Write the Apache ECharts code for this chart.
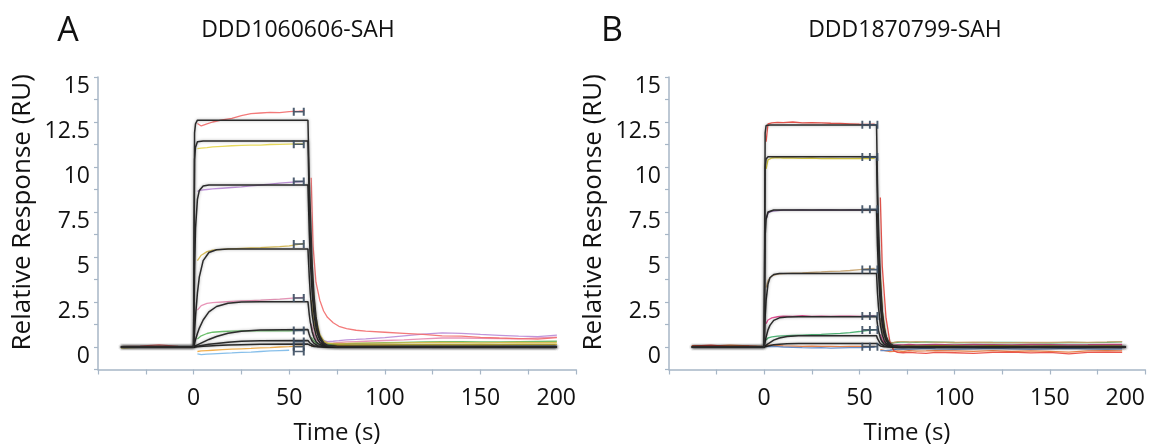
<!DOCTYPE html>
<html>
<head>
<meta charset="utf-8">
<script src="https://cdn.jsdelivr.net/npm/echarts@6/dist/echarts.min.js"></script>
<style>
  body { margin: 0; background: #fff; }
  #graphique { width: 1158px; height: 446px; }
</style>
</head>
<body>
<div id="graphique"></div>
<script>
// Panneau A : courbes ajustees (noir)
const tempsFitA = [-38, 0, 0.5, 1, 2, 3, 5, 8, 12, 18, 25, 35, 59.8, 60.5, 61, 62, 63, 64, 65, 66, 68, 70, 75, 190];
const fitA1 = [0, 0, 11.9, 12.4, 12.6, 12.6, 12.6, 12.6, 12.6, 12.6, 12.6, 12.6, 12.6, 9.2, 7.6, 4.6, 2.8, 1.7, 1.0, 0.6, 0.23, 0.08, 0.01, 0];
const fitA2 = [0, 0, 10.4, 11.1, 11.4, 11.45, 11.45, 11.45, 11.45, 11.45, 11.45, 11.45, 11.45, 8.1, 6.3, 3.8, 2.3, 1.4, 0.85, 0.52, 0.19, 0.07, 0.01, 0];
const fitA3 = [0, 0, 4.2, 6.6, 8.2, 8.7, 8.95, 9.0, 9.0, 9.0, 9.0, 9.0, 9.0, 6.4, 4.9, 3.0, 1.8, 1.1, 0.67, 0.41, 0.15, 0.06, 0.01, 0];
const fitA4 = [0, 0, 0.9, 1.7, 3.0, 3.9, 4.8, 5.25, 5.4, 5.45, 5.45, 5.45, 5.45, 3.9, 3.0, 1.8, 1.1, 0.67, 0.4, 0.25, 0.09, 0.03, 0, 0];
const fitA5 = [0, 0, 0.2, 0.4, 0.75, 1.05, 1.5, 1.95, 2.25, 2.43, 2.5, 2.52, 2.52, 1.8, 1.4, 0.85, 0.51, 0.31, 0.19, 0.11, 0.04, 0.02, 0, 0];
const fitA6 = [0, 0, 0.03, 0.06, 0.12, 0.17, 0.27, 0.42, 0.58, 0.76, 0.87, 0.94, 0.97, 0.69, 0.54, 0.33, 0.2, 0.12, 0.07, 0.04, 0.02, 0.01, 0, 0];
const fitA7 = [0, 0, 0.01, 0.02, 0.04, 0.06, 0.1, 0.15, 0.2, 0.27, 0.32, 0.35, 0.36, 0.26, 0.2, 0.12, 0.07, 0.04, 0.03, 0.02, 0.01, 0, 0, 0];
const fitA8 = [0, 0, 0.01, 0.01, 0.02, 0.03, 0.04, 0.06, 0.08, 0.11, 0.13, 0.15, 0.16, 0.12, 0.09, 0.05, 0.03, 0.02, 0.01, 0.01, 0, 0, 0, 0];

// Panneau A : donnees mesurees (null = trou dans la courbe)
const tempsDonneesA = [-38, -28, -18, -8, -1, 0.5, 2, 4, 7, 10, 15, 20, 25, 30, 35, 40, 45, 50, 55, 58, 59.5,
    61.5, 62.5, 64, 66, 68, 70, 73, 76, 80, 85, 90, 100, 110, 120, 130, 140, 150, 160, 170, 180, 190];
const rougeA = [0.02, 0.05, 0.12, 0.03, 0.02, null,
    12.42, 12.28, 12.4, 12.5, 12.62, 12.7, 12.85, 12.96, 13.0, 13.03, 13.02, 13.08, 13.1, 13.12, null,
    9.4, 5.6, 3.6, 2.6, 2.0, 1.65, 1.35, 1.15, 1.02, 0.93, 0.88,
    0.82, 0.76, 0.7, 0.62, 0.6, 0.54, 0.5, 0.47, 0.44, 0.52];
const jauneA = [-0.05, -0.02, 0, 0.02, 0, null,
    11.02, 11.05, 11.08, 11.12, 11.15, 11.18, 11.2, 11.22, 11.22, 11.25, 11.26, 11.27, 11.28, 11.28, null,
    5.2, 3.3, 1.6, 0.7, 0.35, 0.22, 0.16, 0.14, 0.12, 0.12, 0.13,
    0.12, 0.13, 0.14, 0.15, 0.14, 0.14, 0.15, 0.16, 0.15, 0.16];
const violetA = [0, 0.02, -0.02, 0.01, 0, null,
    8.65, 8.72, 8.75, 8.78, 8.82, 8.86, 8.9, 8.95, 9.0, 9.05, 9.1, 9.15, 9.18, 9.2, null,
    4.3, 2.7, 1.3, 0.6, 0.35, 0.3, 0.32, 0.35, 0.4, 0.42, 0.45,
    0.52, 0.62, 0.72, 0.78, 0.76, 0.7, 0.65, 0.6, 0.58, 0.66];
const orA = [-0.03, 0, 0.03, 0, -0.02, null,
    4.8, 5.1, 5.3, 5.38, 5.42, 5.45, 5.48, 5.5, 5.52, 5.55, 5.58, 5.62, 5.7, 5.75, null,
    2.6, 1.7, 0.9, 0.45, 0.28, 0.22, 0.2, 0.2, 0.2, 0.21, 0.22,
    0.22, 0.23, 0.24, 0.25, 0.24, 0.23, 0.24, 0.25, 0.24, 0.25];
const roseA = [0, 0.01, 0, -0.01, 0, null,
    2.05, 2.3, 2.42, 2.47, 2.5, 2.53, 2.56, 2.58, 2.6, 2.63, 2.66, 2.7, 2.74, 2.76, null,
    1.3, 0.85, 0.45, 0.25, 0.2, 0.2, 0.22, 0.25, 0.28, 0.3, 0.32,
    0.36, 0.4, 0.45, 0.5, 0.5, 0.48, 0.46, 0.45, 0.5, 0.55];
const vertA = [-0.02, 0, 0.02, 0, 0.01, null,
    0.45, 0.62, 0.75, 0.82, 0.86, 0.88, 0.9, 0.9, 0.9, 0.91, 0.9, 0.9, 0.92, 0.92, null,
    0.55, 0.38, 0.22, 0.15, 0.12, 0.12, 0.14, 0.16, 0.18, 0.2, 0.22,
    0.24, 0.26, 0.28, 0.3, 0.3, 0.29, 0.28, 0.3, 0.31, 0.32];
const orangeA = [0, -0.02, 0, 0.02, 0, null,
    -0.25, -0.22, -0.2, -0.18, -0.15, -0.12, -0.1, -0.08, -0.05, -0.03, 0, 0.02, 0.05, 0.05, null,
    0.04, 0.03, 0.03, 0.04, 0.05, 0.06, 0.07, 0.08, 0.09, 0.1, 0.1,
    0.11, 0.12, 0.12, 0.13, 0.12, 0.13, 0.12, 0.13, 0.14, 0.13];
const bleuA = [0, 0, 0, 0, 0, null,
    -0.38, -0.42, -0.4, -0.38, -0.35, -0.33, -0.3, -0.28, -0.25, -0.22, -0.2, -0.18, null, null, null,
    0.02, 0.02, 0.03, 0.04, 0.05, 0.05, 0.06, 0.06, 0.07, 0.07, 0.08,
    0.08, 0.09, 0.09, 0.1, 0.1, 0.1, 0.11, 0.1, 0.11, 0.1];
const marqueursA = [13.07, 11.26, 9.2, 5.72, 2.72, 0.92, 0.3, 0.02, -0.25];

// Panneau B : courbes ajustees
const tempsFitB = [-38, 0, 0.5, 1, 2, 3, 5, 8, 12, 18, 25, 35, 59, 59.5, 60, 61, 62, 63, 64, 65, 66, 68, 72, 190];
const fitB1 = [0, 0, 11.9, 12.3, 12.33, 12.33, 12.33, 12.33, 12.33, 12.33, 12.33, 12.33, 12.33, 9.1, 6.8, 3.7, 2.0, 1.1, 0.6, 0.34, 0.18, 0.06, 0.01, 0];
const fitB2 = [0, 0, 10.0, 10.45, 10.57, 10.57, 10.57, 10.57, 10.57, 10.57, 10.57, 10.57, 10.57, 7.8, 5.8, 3.2, 1.75, 0.96, 0.53, 0.29, 0.16, 0.05, 0.01, 0];
const fitB3 = [0, 0, 6.2, 7.1, 7.5, 7.58, 7.61, 7.61, 7.61, 7.61, 7.61, 7.61, 7.61, 5.6, 4.2, 2.3, 1.25, 0.69, 0.38, 0.21, 0.11, 0.03, 0, 0];
const fitB4 = [0, 0, 1.7, 2.6, 3.5, 3.85, 4.03, 4.08, 4.09, 4.09, 4.09, 4.09, 4.09, 3.0, 2.25, 1.23, 0.68, 0.37, 0.2, 0.11, 0.06, 0.02, 0, 0];
const fitB5 = [0, 0, 0.3, 0.55, 0.95, 1.2, 1.48, 1.62, 1.67, 1.68, 1.68, 1.68, 1.68, 1.24, 0.92, 0.51, 0.28, 0.15, 0.08, 0.05, 0.02, 0.01, 0, 0];
const fitB6 = [0, 0, 0.05, 0.1, 0.18, 0.26, 0.38, 0.5, 0.58, 0.62, 0.63, 0.63, 0.63, 0.46, 0.35, 0.19, 0.1, 0.06, 0.03, 0.02, 0.01, 0, 0, 0];
const fitB7 = [0, 0, 0.02, 0.03, 0.06, 0.08, 0.12, 0.15, 0.18, 0.19, 0.2, 0.2, 0.2, 0.15, 0.11, 0.06, 0.03, 0.02, 0.01, 0.01, 0, 0, 0, 0];

// Panneau B : donnees mesurees
const tempsDonneesB = [-38, -28, -18, -8, -1, 0.3, 1, 2, 4, 7, 10, 15, 20, 25, 30, 35, 40, 45, 50, 55, 58, 59.5,
    61, 62, 64, 66, 68, 70, 73, 76, 80, 85, 90, 100, 110, 120, 130, 140, 150, 160, 170, 180, 188];
const rougeB = [0.05, 0.1, 0.02, 0.05, 0, null,
    11.4, 12.4, 12.45, 12.48, 12.47, 12.5, 12.45, 12.47, 12.45, 12.43, 12.42, 12.4, 12.38, 12.37, 12.38, null,
    8.3, 4.5, 1.6, 0.3, -0.2, -0.3, -0.32, -0.3, -0.33, -0.35, -0.3,
    -0.32, -0.35, -0.3, -0.28, -0.33, -0.3, -0.38, -0.3, -0.28, -0.3];
const jauneB = [0, -0.02, 0.01, 0, 0, null,
    9.9, 10.4, 10.5, 10.52, 10.5, 10.5, 10.48, 10.5, 10.47, 10.48, 10.46, 10.47, 10.48, 10.47, 10.48, null,
    4.0, 2.0, 0.6, 0.15, 0.05, 0.04, 0.05, 0.06, 0.05, 0.06, 0.07,
    0.06, 0.05, 0.07, 0.06, 0.05, 0.06, 0.04, 0.05, 0.06, 0.05];
const violetB = [0, 0, -0.01, 0, 0, null,
    7.1, 7.45, 7.55, 7.58, 7.6, 7.6, 7.61, 7.6, 7.62, 7.61, 7.6, 7.62, 7.61, 7.62, 7.63, null,
    2.9, 1.5, 0.45, 0.12, 0.05, 0.03, 0.02, 0.03, 0.02, 0.03, 0.04,
    0.03, 0.02, 0.04, 0.03, 0.02, 0.03, 0.02, 0.03, 0.04, 0.03];
const brunB = [0.03, 0, 0, 0.02, 0, null,
    3.3, 3.7, 3.95, 4.05, 4.08, 4.1, 4.12, 4.15, 4.17, 4.2, 4.22, 4.25, 4.3, 4.35, 4.37, null,
    1.6, 0.9, 0.35, 0.22, 0.25, 0.3, 0.3, 0.28, 0.3, 0.28, 0.27,
    0.25, 0.27, 0.25, 0.24, 0.26, 0.25, 0.27, 0.26, 0.28, 0.3];
const roseB = [0, 0, 0, 0, 0, null,
    1.3, 1.5, 1.62, 1.68, 1.72, 1.7, 1.74, 1.7, 1.72, 1.7, 1.71, 1.72, 1.7, 1.72, 1.73, null,
    0.7, 0.4, 0.15, 0.08, 0.1, 0.12, 0.12, 0.14, 0.12, 0.13, 0.14,
    0.12, 0.14, 0.13, 0.12, 0.14, 0.13, 0.12, 0.13, 0.15, 0.14];
const vertB = [0, 0, 0, 0, 0, null,
    0.38, 0.5, 0.56, 0.6, 0.62, 0.64, 0.66, 0.68, 0.7, 0.73, 0.76, 0.8, 0.86, 0.93, 0.96, null,
    0.45, 0.3, 0.2, 0.2, 0.24, 0.26, 0.28, 0.27, 0.26, 0.28, 0.27,
    0.25, 0.24, 0.26, 0.25, 0.24, 0.23, 0.25, 0.24, 0.26, 0.28];
const bleuB = [0, 0, 0, 0, 0, null,
    0.02, 0.05, 0.04, 0.02, 0, -0.02, -0.04, -0.05, -0.04, -0.06, -0.05, -0.04, -0.03, -0.02, 0, null,
    -0.2, -0.22, -0.2, -0.18, -0.15, -0.12, -0.1, -0.12, -0.1, -0.08, -0.1,
    -0.12, -0.1, -0.08, -0.1, -0.12, -0.1, -0.08, -0.1, -0.12, -0.1];
const orangeB = [0.08, 0.05, 0.1, 0.06, 0.04, null,
    0.1, 0.12, 0.1, 0.08, 0.06, 0.05, 0.04, 0.05, 0.03, 0.04, 0.02, 0.03, 0.04, 0.02, 0.03, null,
    -0.15, -0.2, -0.22, -0.25, -0.24, -0.22, -0.25, -0.2, -0.23, -0.22, -0.2,
    -0.22, -0.24, -0.2, -0.25, -0.22, -0.24, -0.28, -0.22, -0.2, -0.22];
const marqueursB = [12.35, 10.55, 7.65, 4.3, 1.72, 0.95, 0.02];

const tempsMarqueurA = 55;
const tempsMarqueurB = 55.5;

const police = 'Open Sans';
const couleurAxe = '#a7b6c6';

const dom = document.getElementById('graphique');
const chart = echarts.init(dom, null, { renderer: 'canvas', useDirtyRect: false });

function paires(temps, valeurs) {
    return temps.map((t, i) => [t, valeurs[i]]);
}

function serieDonnees(temps, valeurs, couleur, idx) {
    return {
        type: 'line', xAxisIndex: idx, yAxisIndex: idx,
        data: paires(temps, valeurs),
        symbol: 'none', connectNulls: false, silent: true, z: 2,
        lineStyle: { color: couleur, width: 1.3, opacity: 0.9 }
    };
}

function serieFit(temps, valeurs, idx) {
    return {
        type: 'line', xAxisIndex: idx, yAxisIndex: idx,
        data: paires(temps, valeurs),
        symbol: 'none', silent: true, z: 3,
        lineStyle: { color: '#2b2b2b', width: 1.5, shadowColor: 'rgba(0,0,0,0.35)', shadowBlur: 3 }
    };
}

// Symbole "H" couche (marqueurs de rapport)
const symboleSimple = 'path://M0,0H2V4H10V0H12V10H10V6H2V10H0Z';
const symboleDouble = 'path://M0,0H2V4H8V0H10V4H16V0H18V10H16V6H10V10H8V6H2V10H0Z';

function serieMarqueurs(t, valeurs, symbole, taille, idx) {
    return {
        type: 'scatter', xAxisIndex: idx, yAxisIndex: idx,
        data: valeurs.map(v => [t, v]),
        symbol: symbole, symbolSize: taille, silent: true, z: 4,
        itemStyle: { color: '#3b4d60', opacity: 0.9 }
    };
}

function axeX(idx) {
    return {
        gridIndex: idx, type: 'value', min: -50, max: 200, interval: 25,
        axisLine: { onZero: false, lineStyle: { color: couleurAxe, width: 1.5 } },
        axisTick: { length: 5, lineStyle: { color: couleurAxe, width: 1.2 } },
        splitLine: { show: false },
        axisLabel: {
            fontFamily: police, fontSize: 23, color: '#111', margin: 17,
            alignMaxLabel: 'right',
            formatter: v => (v >= 0 && v % 50 === 0) ? String(v) : ''
        },
        name: 'Time (s)', nameLocation: 'middle', nameGap: 52,
        nameTextStyle: { fontFamily: police, fontSize: 24, color: '#111' }
    };
}

function axeY(idx) {
    return {
        gridIndex: idx, type: 'value', min: -1.25, max: 15, interval: 1.25,
        axisLine: { show: true, onZero: false, lineStyle: { color: couleurAxe, width: 1.5 } },
        axisTick: { show: true, length: 4, lineStyle: { color: couleurAxe, width: 1.2 } },
        splitLine: { show: false },
        axisLabel: {
            fontFamily: police, fontSize: 23, color: '#111', margin: 8,
            verticalAlign: 'top', lineHeight: 18,
            formatter: v => (v >= 0 && Math.abs(v / 2.5 - Math.round(v / 2.5)) < 1e-6) ? String(v) : ''
        },
        name: 'Relative Response (RU)', nameLocation: 'middle', nameGap: 62,
        nameTextStyle: { fontFamily: police, fontSize: 26, color: '#111', padding: [0, 0, 0, 22] }
    };
}

const option = {
    animation: false,
    backgroundColor: '#fff',
    // grilles fixes : pas de recalage automatique autour des libelles
    grid: [
        { left: 98, width: 478, top: 77, height: 292.5, containLabel: false, outerBoundsMode: 'none' },
        { left: 669, width: 476, top: 77, height: 292.5, containLabel: false, outerBoundsMode: 'none' }
    ],
    xAxis: [axeX(0), axeX(1)],
    yAxis: [axeY(0), axeY(1)],
    graphic: [
        { type: 'text', x: 68, y: 31, style: { text: 'A', font: '34px "Open Sans"', fill: '#111', textAlign: 'center', textVerticalAlign: 'middle' } },
        { type: 'text', x: 298, y: 30, style: { text: 'DDD1060606-SAH', font: '23px "Open Sans"', fill: '#111', textAlign: 'center', textVerticalAlign: 'middle' } },
        { type: 'text', x: 612, y: 31, style: { text: 'B', font: '34px "Open Sans"', fill: '#111', textAlign: 'center', textVerticalAlign: 'middle' } },
        { type: 'text', x: 905, y: 30, style: { text: 'DDD1870799-SAH', font: '23px "Open Sans"', fill: '#111', textAlign: 'center', textVerticalAlign: 'middle' } }
    ],
    series: [
        serieDonnees(tempsDonneesA, bleuA, '#7ab8e8', 0),
        serieDonnees(tempsDonneesA, orangeA, '#f0a63c', 0),
        serieDonnees(tempsDonneesA, vertA, '#5cb85c', 0),
        serieDonnees(tempsDonneesA, roseA, '#e68ab0', 0),
        serieDonnees(tempsDonneesA, orA, '#d6b84a', 0),
        serieDonnees(tempsDonneesA, violetA, '#b98ad6', 0),
        serieDonnees(tempsDonneesA, jauneA, '#e6d64a', 0),
        serieDonnees(tempsDonneesA, rougeA, '#f26b6b', 0),
        serieFit(tempsFitA, fitA8, 0),
        serieFit(tempsFitA, fitA7, 0),
        serieFit(tempsFitA, fitA6, 0),
        serieFit(tempsFitA, fitA5, 0),
        serieFit(tempsFitA, fitA4, 0),
        serieFit(tempsFitA, fitA3, 0),
        serieFit(tempsFitA, fitA2, 0),
        serieFit(tempsFitA, fitA1, 0),
        serieMarqueurs(tempsMarqueurA, marqueursA, symboleSimple, [12, 8], 0),

        serieDonnees(tempsDonneesB, orangeB, '#e8783a', 1),
        serieDonnees(tempsDonneesB, bleuB, '#5b84c4', 1),
        serieDonnees(tempsDonneesB, vertB, '#3fae6a', 1),
        serieDonnees(tempsDonneesB, roseB, '#e0408a', 1),
        serieDonnees(tempsDonneesB, brunB, '#c9a46e', 1),
        serieDonnees(tempsDonneesB, violetB, '#7a4fa0', 1),
        serieDonnees(tempsDonneesB, jauneB, '#d4c52a', 1),
        serieDonnees(tempsDonneesB, rougeB, '#e8453c', 1),
        serieFit(tempsFitB, fitB7, 1),
        serieFit(tempsFitB, fitB6, 1),
        serieFit(tempsFitB, fitB5, 1),
        serieFit(tempsFitB, fitB4, 1),
        serieFit(tempsFitB, fitB3, 1),
        serieFit(tempsFitB, fitB2, 1),
        serieFit(tempsFitB, fitB1, 1),
        serieMarqueurs(tempsMarqueurB, marqueursB, symboleDouble, [17, 8], 1)
    ]
};

chart.setOption(option);
window.addEventListener('resize', chart.resize);
</script>
</body>
</html>
